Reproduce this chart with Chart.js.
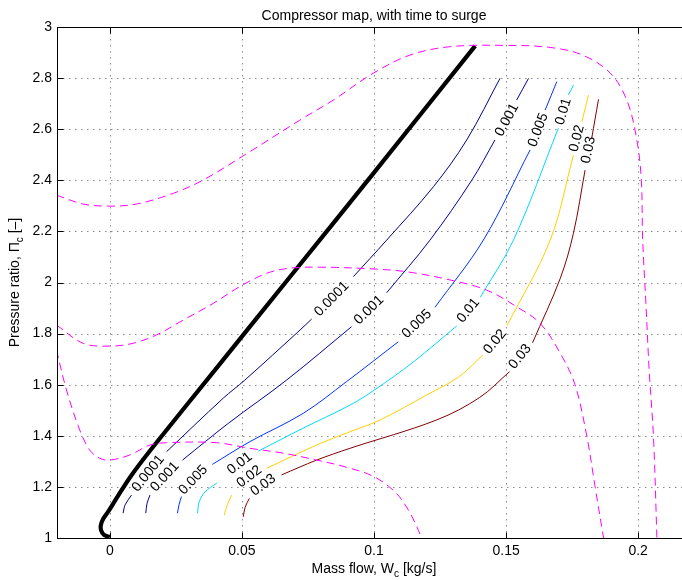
<!DOCTYPE html>
<html>
<head>
<meta charset="utf-8">
<title>Compressor map, with time to surge</title>
<script src="https://cdn.jsdelivr.net/npm/chart.js@4/dist/chart.umd.min.js"></script>
<style>
  html, body { margin: 0; padding: 0; background: #fff; overflow: hidden; width: 682px; height: 580px; }
  #wrap { width: 682px; height: 580px; overflow: hidden; position: relative; }
  canvas { display: block; }
</style>
</head>
<body>
<div id="wrap"><canvas id="map" width="700" height="580"></canvas></div>
<script>
// ---- axes ----
const xTicks = [0, 0.05, 0.1, 0.15, 0.2];
const yTicks = [1, 1.2, 1.4, 1.6, 1.8, 2, 2.2, 2.4, 2.6, 2.8, 3];

// ---- surge line (mass flow, pressure ratio) ----
const surgeLine = [
  [0, 1.004], [-0.0022, 1.012], [-0.0033, 1.03], [-0.0034, 1.05], [-0.0025, 1.075],
  [-0.0005, 1.105], [0.0028, 1.16], [0.0078, 1.24], [0.0164, 1.357], [0.04, 1.66],
  [0.07, 2.045], [0.1, 2.43], [0.1383, 2.926]
];

// ---- constant speed lines ----
const speedHigh = [
  [-0.0202, 2.342], [-0.0101, 2.307], [0, 2.299], [0.0101, 2.307], [0.024, 2.349],
  [0.0353, 2.401], [0.053, 2.512], [0.072, 2.636], [0.0846, 2.714], [0.0997, 2.819],
  [0.1136, 2.89], [0.1288, 2.923], [0.15, 2.928], [0.1667, 2.92], [0.179, 2.89],
  [0.1894, 2.82], [0.1957, 2.714], [0.1995, 2.558], [0.2012, 2.4], [0.2017, 2.17],
  [0.203, 1.905], [0.2042, 1.65], [0.2058, 1.396], [0.2071, 1.0]
];
const speedMid = [
  [-0.0202, 1.834], [-0.0101, 1.762], [0, 1.751], [0.0088, 1.762], [0.0177, 1.795],
  [0.0278, 1.853], [0.0391, 1.918], [0.0492, 1.984], [0.0594, 2.036], [0.068, 2.056],
  [0.08, 2.06], [0.0997, 2.053], [0.1124, 2.042], [0.1288, 2.01], [0.1427, 1.97],
  [0.154, 1.905], [0.1629, 1.84], [0.1705, 1.723], [0.1761, 1.6], [0.1806, 1.396],
  [0.1837, 1.2], [0.1869, 1.0]
];
const speedLow = [
  [-0.0202, 1.736], [-0.0164, 1.579], [-0.0114, 1.423], [-0.0076, 1.344], [-0.0038, 1.312],
  [0, 1.305], [0.0076, 1.325], [0.0152, 1.364], [0.0215, 1.373], [0.0404, 1.373],
  [0.053, 1.351], [0.0657, 1.332], [0.0783, 1.305], [0.0896, 1.277], [0.1, 1.24],
  [0.108, 1.18], [0.113, 1.11], [0.1162, 1.044], [0.118, 1.0]
];

// ---- time-to-surge contour levels ----
const levels = ['0.0001', '0.001', '0.005', '0.01', '0.02', '0.03'];

// each contour: pieces of line, separated by its inline labels
const t0001Pieces = [
  [[0.005, 1.097], [0.0058, 1.13], [0.0082, 1.168]],
  [[0.0215, 1.338], [0.0429, 1.547], [0.0511, 1.618], [0.072, 1.814], [0.0764, 1.857]],
  [[0.0922, 2.023], [0.1048, 2.166], [0.1225, 2.375], [0.1351, 2.558], [0.1477, 2.799]]
];
const t0001Labels = [[0.0145, 1.253], [0.084, 1.935]];

const t001Pieces = [
  [[0.0136, 1.097], [0.0141, 1.136], [0.0152, 1.168]],
  [[0.0275, 1.305], [0.045, 1.45], [0.0669, 1.618], [0.0915, 1.827]],
  [[0.1048, 1.96], [0.1212, 2.166], [0.137, 2.4], [0.1458, 2.558]],
  [[0.154, 2.714], [0.1585, 2.799]]
];
const t001Labels = [[0.0208, 1.24], [0.0981, 1.892], [0.1503, 2.636]];

const t005Pieces = [
  [[0.0256, 1.097], [0.0262, 1.13], [0.0271, 1.162]],
  [[0.0388, 1.288], [0.053, 1.377], [0.0732, 1.488], [0.0896, 1.612], [0.1092, 1.768]],
  [[0.1231, 1.903], [0.1414, 2.166], [0.1591, 2.519]],
  [[0.1648, 2.675], [0.1692, 2.786]]
];
const t005Labels = [[0.0316, 1.227], [0.1162, 1.838], [0.1622, 2.597]];

const t01Pieces = [
  [[0.0332, 1.097], [0.0338, 1.14], [0.036, 1.18], [0.0405, 1.215]],
  [[0.0562, 1.34], [0.0732, 1.43], [0.0909, 1.52], [0.1, 1.578], [0.115, 1.69], [0.1313, 1.83]],
  [[0.1402, 1.942], [0.1528, 2.166], [0.1698, 2.604]],
  [[0.1736, 2.734], [0.1755, 2.773]]
];
const t01Labels = [[0.0492, 1.292], [0.1357, 1.89], [0.1717, 2.669]];

const t02Pieces = [
  [[0.0433, 1.09], [0.0445, 1.13], [0.0461, 1.168]],
  [[0.0594, 1.273], [0.0783, 1.364], [0.0909, 1.416], [0.1023, 1.462], [0.12, 1.56], [0.132, 1.63], [0.1412, 1.716]],
  [[0.1503, 1.83], [0.1667, 2.166], [0.1755, 2.499]],
  [[0.1787, 2.629], [0.1812, 2.734]]
];
const t02Labels = [[0.0528, 1.24], [0.1458, 1.768], [0.1768, 2.564]];

const t03Pieces = [
  [[0.0505, 1.083], [0.0512, 1.12], [0.0528, 1.155]],
  [[0.065, 1.247], [0.0783, 1.305], [0.0909, 1.351], [0.1237, 1.462], [0.14, 1.55], [0.1513, 1.651]],
  [[0.16, 1.764], [0.1705, 2.016], [0.1755, 2.193], [0.1799, 2.44]],
  [[0.1824, 2.564], [0.185, 2.717]]
];
const t03Labels = [[0.0581, 1.207], [0.1553, 1.71], [0.1812, 2.519]];

// ---- styling ----
const contourColors = ['#00007f', '#00009a', '#0030ff', '#00d8ff', '#ffd000', '#800000'];
const FONT = '"Liberation Sans", Arial, Helvetica, sans-serif';

const contours = [
  { pieces: t0001Pieces, labels: t0001Labels },
  { pieces: t001Pieces,  labels: t001Labels },
  { pieces: t005Pieces,  labels: t005Labels },
  { pieces: t01Pieces,   labels: t01Labels },
  { pieces: t02Pieces,   labels: t02Labels },
  { pieces: t03Pieces,   labels: t03Labels }
];

const toXY = arr => arr.map(p => ({ x: p[0], y: p[1] }));

const datasets = [];
[speedHigh, speedMid, speedLow].forEach(s => datasets.push({
  data: toXY(s), borderColor: '#ff00ff', borderWidth: 1, borderDash: [8, 5],
  tension: 0.35, pointRadius: 0, showLine: true
}));
contours.forEach((c, i) => c.pieces.forEach(piece => datasets.push({
  data: toXY(piece), borderColor: contourColors[i], borderWidth: 1,
  tension: 0.35, pointRadius: 0, showLine: true
})));
datasets.push({
  data: toXY(surgeLine), borderColor: '#000', borderWidth: 4.2,
  tension: 0.3, pointRadius: 0, showLine: true
});

// dotted grid behind the curves
const gridPlugin = {
  id: 'dottedGrid',
  beforeDatasetsDraw(chart) {
    const { ctx, chartArea: a, scales: { x, y } } = chart;
    ctx.save();
    ctx.strokeStyle = '#8a8a8a';
    ctx.lineWidth = 1;
    ctx.setLineDash([1.5, 4.5]);
    xTicks.forEach(v => {
      const px = Math.round(x.getPixelForValue(v)) + 0.5;
      ctx.beginPath(); ctx.moveTo(px, a.top); ctx.lineTo(px, a.bottom); ctx.stroke();
    });
    yTicks.forEach(v => {
      const py = Math.round(y.getPixelForValue(v)) + 0.5;
      ctx.beginPath(); ctx.moveTo(a.left, py); ctx.lineTo(a.right, py); ctx.stroke();
    });
    ctx.restore();
  }
};

// axes box, inward ticks, inline contour labels, titles
const decorPlugin = {
  id: 'decor',
  afterDatasetsDraw(chart) {
    const { ctx, chartArea: a, scales: { x, y } } = chart;
    ctx.save();
    // contour labels, rotated along the line
    ctx.fillStyle = '#000';
    ctx.font = '14px ' + FONT;
    ctx.textAlign = 'center';
    ctx.textBaseline = 'middle';
    contours.forEach((c, i) => {
      c.labels.forEach((lab, k) => {
        const before = c.pieces[k][c.pieces[k].length - 1];
        const after = c.pieces[k + 1][0];
        const dx = x.getPixelForValue(after[0]) - x.getPixelForValue(before[0]);
        const dy = y.getPixelForValue(after[1]) - y.getPixelForValue(before[1]);
        ctx.save();
        ctx.translate(x.getPixelForValue(lab[0]), y.getPixelForValue(lab[1]));
        ctx.rotate(Math.atan2(dy, dx));
        ctx.fillText(levels[i], 0, 0);
        ctx.restore();
      });
    });

    // box
    ctx.strokeStyle = '#000';
    ctx.lineWidth = 1;
    ctx.setLineDash([]);
    const L = Math.round(a.left) + 0.5, R = Math.round(a.right) + 0.5;
    const T = Math.round(a.top) + 0.5, B = Math.round(a.bottom) + 0.5;
    ctx.strokeRect(L, T, R - L, B - T);

    // inward tick marks
    const tl = 6;
    ctx.beginPath();
    xTicks.forEach(v => {
      const px = Math.round(x.getPixelForValue(v)) + 0.5;
      ctx.moveTo(px, B); ctx.lineTo(px, B - tl);
      ctx.moveTo(px, T); ctx.lineTo(px, T + tl);
    });
    yTicks.forEach(v => {
      const py = Math.round(y.getPixelForValue(v)) + 0.5;
      ctx.moveTo(L, py); ctx.lineTo(L + tl, py);
      ctx.moveTo(R, py); ctx.lineTo(R - tl, py);
    });
    ctx.stroke();
    ctx.restore();
  },
  afterDraw(chart) {
    const { ctx, chartArea: a } = chart;
    const cx = (a.left + a.right) / 2;
    const cy = (a.top + a.bottom) / 2;
    ctx.save();
    ctx.fillStyle = '#000';
    ctx.textBaseline = 'alphabetic';

    // title
    ctx.font = '14px ' + FONT;
    ctx.textAlign = 'center';
    ctx.fillText('Compressor map, with time to surge', cx, 20);

    // text with a subscript, centred on (0,0) of the current transform
    const subText = (pre, sub, post, base) => {
      ctx.font = '14px ' + FONT;
      const w1 = ctx.measureText(pre).width;
      const w3 = ctx.measureText(post).width;
      ctx.font = '10px ' + FONT;
      const w2 = ctx.measureText(sub).width;
      let sx = -(w1 + w2 + w3) / 2;
      ctx.textAlign = 'left';
      ctx.font = '14px ' + FONT;
      ctx.fillText(pre, sx, base); sx += w1;
      ctx.font = '10px ' + FONT;
      ctx.fillText(sub, sx, base + 4); sx += w2;
      ctx.font = '14px ' + FONT;
      ctx.fillText(post, sx, base);
    };

    // x title
    ctx.save();
    ctx.translate(cx, 573);
    subText('Mass flow, W', 'c', ' [kg/s]', 0);
    ctx.restore();

    // y title
    ctx.save();
    ctx.translate(19, cy);
    ctx.rotate(-Math.PI / 2);
    subText('Pressure ratio, \u03A0', 'c', ' [\u2013]', 0);
    ctx.restore();

    ctx.restore();
  }
};

const fmt = v => String(parseFloat(Number(v).toFixed(3)));

new Chart(document.getElementById('map'), {
  type: 'scatter',
  data: { datasets },
  options: {
    responsive: false,
    animation: false,
    devicePixelRatio: 1,
    events: [],
    layout: { padding: { top: 27, right: 9, left: 0, bottom: 0 } },
    plugins: { legend: { display: false }, tooltip: { enabled: false }, title: { display: false } },
    scales: {
      x: {
        type: 'linear', min: -0.02, max: 0.22,
        afterBuildTicks: s => { s.ticks = xTicks.map(v => ({ value: v })); },
        afterFit: s => { s.height = 42; },
        grid: { display: false, drawTicks: false },
        border: { display: false },
        ticks: { color: '#000', font: { family: FONT, size: 14 }, padding: 5, maxRotation: 0, autoSkip: false, callback: fmt }
      },
      y: {
        type: 'linear', min: 1, max: 3,
        afterBuildTicks: s => { s.ticks = yTicks.map(v => ({ value: v })); },
        afterFit: s => { s.width = 57; },
        grid: { display: false, drawTicks: false },
        border: { display: false },
        ticks: { color: '#000', font: { family: FONT, size: 14 }, padding: 5, autoSkip: false, callback: fmt }
      }
    }
  },
  plugins: [gridPlugin, decorPlugin]
});
</script>
</body>
</html>
